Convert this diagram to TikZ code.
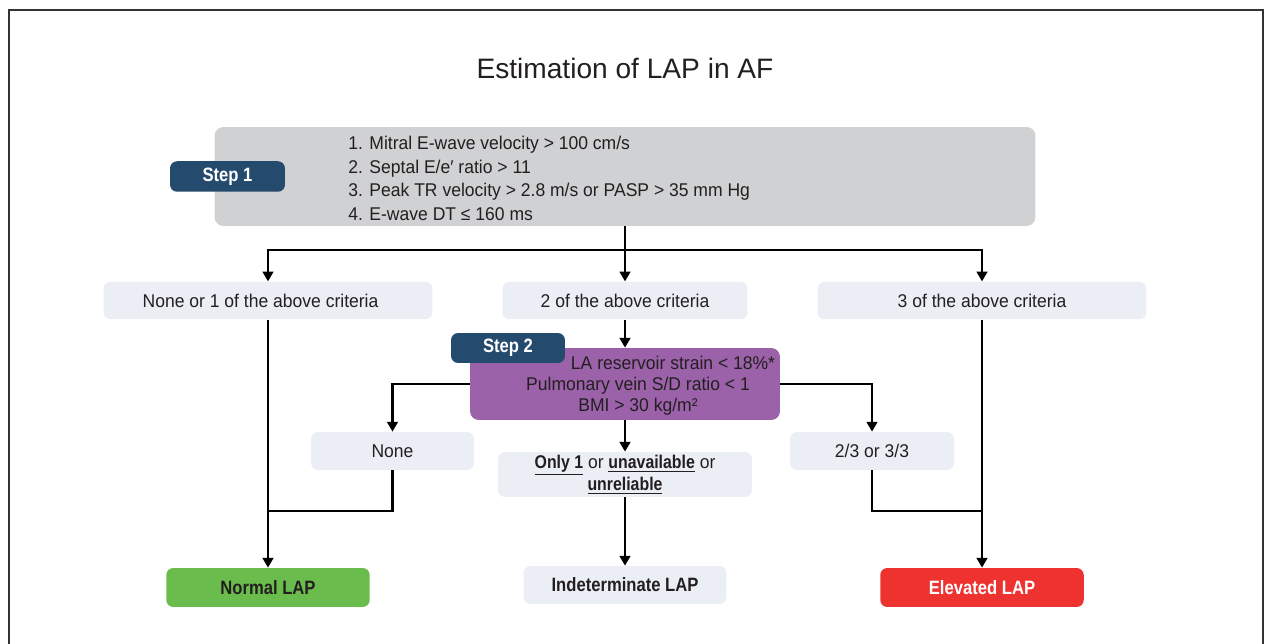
\documentclass[tikz,border=0pt]{standalone}
\usepackage{fontspec}
\setmainfont{Liberation Sans}[FakeStretch=0.95,BoldFeatures={FakeStretch=0.86}]
\newfontfamily\titlefont{Liberation Sans}
\usetikzlibrary{arrows.meta}

\definecolor{boxgray}{RGB}{207,209,210}
\definecolor{boxlight}{RGB}{236,238,246}
\definecolor{stepblue}{RGB}{36,74,110}
\definecolor{steppurple}{RGB}{155,98,170}
\definecolor{lapgreen}{RGB}{106,189,77}
\definecolor{lapred}{RGB}{238,50,48}
\definecolor{ink}{RGB}{35,31,32}

\tikzset{
  txt/.style={text=ink, font=\fontsize{10.5}{13.5}\selectfont},
  crit/.style={txt, rectangle, fill=boxlight, rounded corners=4pt, inner sep=0pt, minimum height=0.75cm},
  badge/.style={rectangle, fill=stepblue, rounded corners=4pt, text=white, font=\bfseries\fontsize{11}{13}\selectfont, minimum width=2.3cm, minimum height=0.61cm, inner sep=0pt},
  result/.style={rectangle, rounded corners=4pt, font=\bfseries\fontsize{11}{13}\selectfont, minimum width=4.07cm, minimum height=0.78cm, inner sep=0pt},
  link/.style={line width=1.3pt, draw=black},
  arr/.style={link, -{Triangle[length=5.5pt,width=6pt]}},
}

\begin{document}
\begin{tikzpicture}[x=0.02cm,y=-0.02cm]
    \useasboundingbox (0,0) rectangle (1266,644);
    \draw[line width=0.8pt, draw=black!80] (9,650) -- (9,10) -- (1263,10) -- (1263,650);

    \node[text=ink, font=\titlefont\fontsize{16}{19}\selectfont] (title) at (625,68) {Estimation of LAP in AF};

    \node[rectangle, fill=boxgray, rounded corners=5pt, minimum width=16.42cm, minimum height=1.98cm] (s1) at (625,176.5) {};
    \node[txt, anchor=west, align=left, inner sep=0pt] (s1text) at (348,178.5)
        {1. Mitral E-wave velocity > 100 cm/s\\
         2. Septal E/e′ ratio > 11\\
         3. Peak TR velocity > 2.8 m/s or PASP > 35 mm Hg\\
         4. E-wave DT ≤ 160 ms};
    \node[badge] (b1) at (227.5,176.5) {Step 1};

    \node[crit, minimum width=6.58cm] (c0) at (268,300.5) {None or 1 of the above criteria\hspace*{0.3cm}};
    \node[crit, minimum width=4.9cm] (c2) at (625,300.5) {2 of the above criteria};
    \node[crit, minimum width=6.58cm] (c3) at (982,300.5) {3 of the above criteria};

    \node[rectangle, fill=steppurple, rounded corners=5pt, minimum width=6.2cm, minimum height=1.44cm] (s2) at (625,384) {};
    \node[txt, align=center, inner sep=0pt, font=\fontsize{10.5}{12}\selectfont] (s2text) at (638,386)
        {\hspace*{1.4cm}LA reservoir strain < 18\%*\\
         Pulmonary vein S/D ratio < 1\\
         BMI > 30 kg/m²};
    \node[badge, minimum width=2.28cm, minimum height=0.6cm] (b2) at (508,348) {Step 2};

    \node[crit, minimum width=3.26cm, minimum height=0.76cm] (none) at (392.5,451) {None};
    \node[crit, minimum width=5.08cm, minimum height=0.9cm, align=center, font=\fontsize{10.5}{12.5}\selectfont] (only1) at (625,474.5)
        {\textbf{\underline{Only 1}} or \textbf{\underline{unavailable}} or\\ \textbf{\underline{unreliable}}};
    \node[crit, minimum width=3.28cm, minimum height=0.76cm] (twothree) at (872,451) {2/3 or 3/3};

    \node[result, fill=lapgreen, text=ink] (normal) at (268,587.5) {Normal LAP};
    \node[result, fill=boxlight, text=ink, minimum width=4.06cm, minimum height=0.76cm] (indet) at (625,585) {Indeterminate LAP};
    \node[result, fill=lapred, text=white] (elev) at (982,587.5) {Elevated LAP};

    \coordinate (j1) at (625,250);
    \coordinate (jl) at (268,511);
    \coordinate (jr) at (982,511);

    \draw[link] (s1.south) -- (j1);
    \draw[arr] (j1) -| (c0.north);
    \draw[arr] (j1) -- (c2.north);
    \draw[arr] (j1) -| (c3.north);

    \draw[arr] (c2.south) -- (s2.north);
    \draw[arr] (s2.west) -| (none.north);
    \draw[arr] (s2.east) -| (twothree.north);
    \draw[arr] (s2.south) -- (only1.north);
    \draw[arr] (only1.south) -- (indet.north);

    \draw[arr] (c0.south) -- (normal.north);
    \draw[link] (none.south) |- (jl);
    \draw[arr] (c3.south) -- (elev.north);
    \draw[link] (twothree.south) |- (jr);
\end{tikzpicture}
\end{document}
